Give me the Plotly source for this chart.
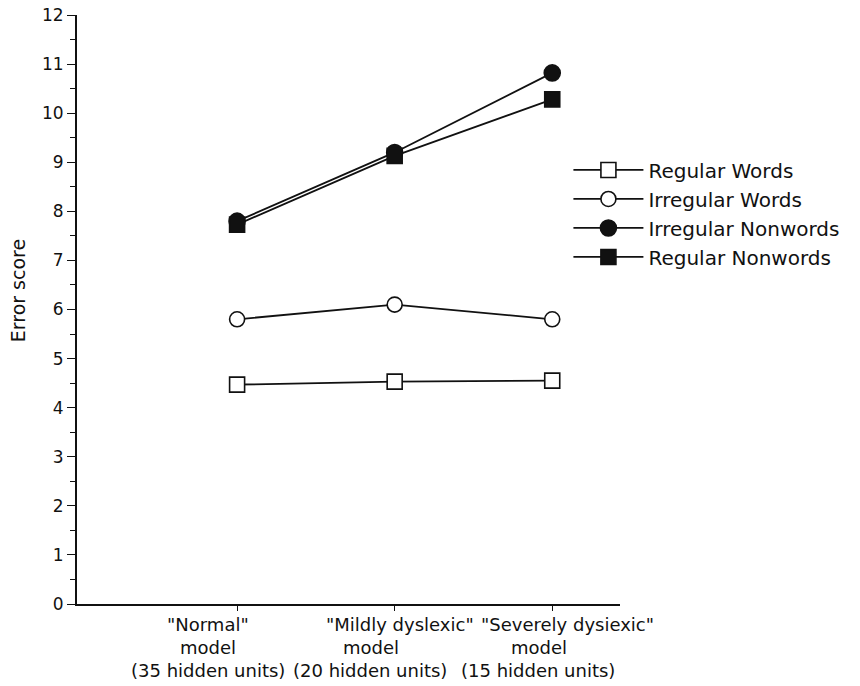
import plotly.graph_objects as go

# Model conditions (x positions 0, 1, 2) and their three-line labels
conditions = [0, 1, 2]
label_titles = ['"Normal"', '"Mildly dyslexic"', '"Severely dysiexic"']
label_models = ["model", "model", "model"]
label_units = ["(35 hidden units)", "(20 hidden units)", "(15 hidden units)"]

# Mean error scores per stimulus type
regular_words = [4.47, 4.53, 4.55]
irregular_words = [5.80, 6.10, 5.80]
irregular_nonwords = [7.80, 9.20, 10.82]
regular_nonwords = [7.73, 9.13, 10.28]

y_tick_vals = list(range(0, 13))

FONT = "DejaVu Sans"
INK = "#111111"

series = [
    ("Regular Words", regular_words, "square", "white", 15),
    ("Irregular Words", irregular_words, "circle", "white", 15),
    ("Irregular Nonwords", irregular_nonwords, "circle", INK, 16),
    ("Regular Nonwords", regular_nonwords, "square", INK, 15),
]

fig = go.Figure()
for name, vals, symbol, fill, size in series:
    fig.add_trace(go.Scatter(
        x=conditions, y=vals, name=name, mode="lines+markers",
        line=dict(color=INK, width=1.8),
        marker=dict(symbol=symbol, size=size, color=fill,
                    line=dict(color=INK, width=1.6)),
    ))

# Category labels under the x axis, one annotation per text line
row_shift_y = [-20, -43, -66]
col_shift_x = [
    [-29, -29, -29],
    [5, -24, -25],
    [15, -13, -14],
]
for i, x in enumerate(conditions):
    for r, text in enumerate([label_titles[i], label_models[i], label_units[i]]):
        fig.add_annotation(
            x=x, y=0, xref="x", yref="paper", text=text, showarrow=False,
            xanchor="center", yanchor="middle",
            xshift=col_shift_x[i][r], yshift=row_shift_y[r],
            font=dict(family=FONT, size=18, color=INK),
        )

# Vertical axis title
fig.add_annotation(
    x=0, y=0.531, xref="paper", yref="paper", text="Error score",
    showarrow=False, textangle=-90, xanchor="center", yanchor="middle",
    xshift=-59, font=dict(family=FONT, size=19, color=INK),
)

fig.update_layout(
    width=860, height=686,
    margin=dict(l=77, r=240, t=15, b=82),
    paper_bgcolor="white", plot_bgcolor="white",
    font=dict(family=FONT, color=INK, size=17),
    showlegend=True,
    legend=dict(
        x=0.905, y=0.77, xanchor="left", yanchor="top",
        font=dict(family=FONT, size=20, color=INK),
        itemwidth=70, bgcolor="rgba(0,0,0,0)", tracegroupgap=0,
    ),
)

fig.update_xaxes(
    range=[-1.016, 2.43], tickmode="array", tickvals=conditions,
    showticklabels=False, ticks="outside", ticklen=5, tickwidth=1.2,
    tickcolor=INK, showline=True, linecolor=INK, linewidth=1.8,
    showgrid=False, zeroline=False, automargin=False,
)
fig.update_yaxes(
    range=[0, 12], tickmode="array", tickvals=y_tick_vals,
    ticks="outside", ticklen=8, tickwidth=1.2, tickcolor=INK,
    minor=dict(dtick=0.5, ticks="outside", ticklen=5, tickwidth=1.2,
               tickcolor=INK, showgrid=False),
    showline=True, linecolor=INK, linewidth=1.8,
    showgrid=False, zeroline=False, automargin=False,
    tickfont=dict(family=FONT, size=17, color=INK),
)

fig.write_html("out.html")
